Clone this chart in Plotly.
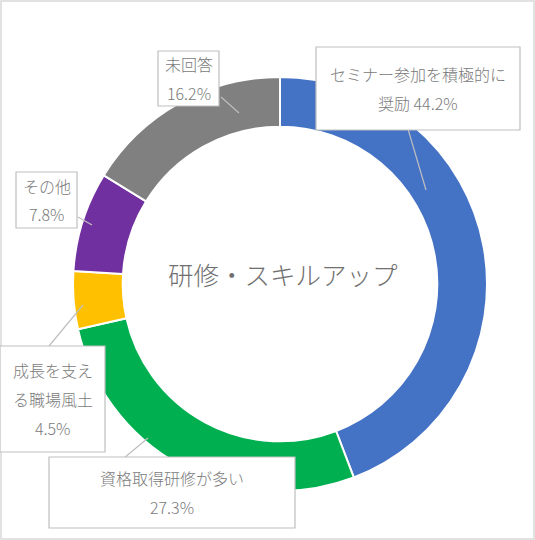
import plotly.graph_objects as go

# data
labels = ["セミナー参加を積極的に奨励", "資格取得研修が多い", "成長を支える職場風土", "その他", "未回答"]
values = [44.2, 27.3, 4.5, 7.8, 16.2]
colors = ["#4472C4", "#00B050", "#FFC000", "#7030A0", "#808080"]
center_title = "研修・スキルアップ"

# label boxes: text lines and pixel layout (x0, y0, x1, y1), leader line start/end
label_lines = [
    ["セミナー参加を積極的に", "奨励 44.2%"],
    ["資格取得研修が多い", "27.3%"],
    ["成長を支え", "る職場風土", "4.5%"],
    ["その他", "7.8%"],
    ["未回答", "16.2%"],
]
box_px = [
    (316, 47, 520, 130),
    (49, 457, 295, 528),
    (0, 346, 105, 452),
    (16, 172, 77, 228),
    (158, 51, 219, 106),
]
leader_px = [
    ((408, 129), (426, 190)),
    ((124, 458), (148, 438)),
    ((49, 346), (83, 305)),
    ((78, 217), (92, 225)),
    ((221, 97), (239, 113)),
]

W, H = 535, 540
FONT = "Noto Sans CJK JP, Meiryo, sans-serif"


def px(x):
    return x / W


def py(y):
    return 1 - y / H


fig = go.Figure()
fig.add_trace(
    go.Pie(
        labels=labels,
        values=values,
        hole=0.76,
        sort=False,
        direction="clockwise",
        rotation=0,
        marker=dict(colors=colors, line=dict(color="white", width=2)),
        textinfo="none",
        hoverinfo="label+percent",
        domain=dict(x=[px(73), px(487)], y=[py(491), py(77)]),
        showlegend=False,
    )
)

shapes = [
    # chart border
    dict(type="rect", xref="paper", yref="paper", x0=px(1), y0=py(539), x1=px(534), y1=py(1),
         line=dict(color="#D9D9D9", width=1.5), fillcolor="rgba(0,0,0,0)", layer="below"),
]
annotations = [
    dict(text=center_title, x=px(283), y=py(273), xref="paper", yref="paper", showarrow=False,
         xanchor="center", yanchor="middle",
         font=dict(family=FONT, size=25.5, color="#707070", weight=300)),
]

for lines, (x0, y0, x1, y1), (p0, p1) in zip(label_lines, box_px, leader_px):
    shapes.append(dict(type="line", xref="paper", yref="paper",
                       x0=px(p0[0]), y0=py(p0[1]), x1=px(p1[0]), y1=py(p1[1]),
                       line=dict(color="#BFBFBF", width=1.2)))
    shapes.append(dict(type="rect", xref="paper", yref="paper",
                       x0=px(x0), y0=py(y1), x1=px(x1), y1=py(y0),
                       line=dict(color="#BFBFBF", width=1.2), fillcolor="white"))
    n = len(lines)
    cy = (y0 + y1) / 2
    step = 29
    for i, line in enumerate(lines):
        ly = cy + (i - (n - 1) / 2) * step
        annotations.append(dict(text=line, x=px((x0 + x1) / 2), y=py(ly), xref="paper", yref="paper",
                                showarrow=False, xanchor="center", yanchor="middle",
                                font=dict(family=FONT, size=16, color="#7A7A7A", weight=300)))

fig.update_layout(
    width=W,
    height=H,
    margin=dict(l=0, r=0, t=0, b=0),
    paper_bgcolor="white",
    plot_bgcolor="white",
    shapes=shapes,
    annotations=annotations,
)

fig.write_html("out.html", config={"displayModeBar": False},
               post_script="document.body.style.margin='0';")
